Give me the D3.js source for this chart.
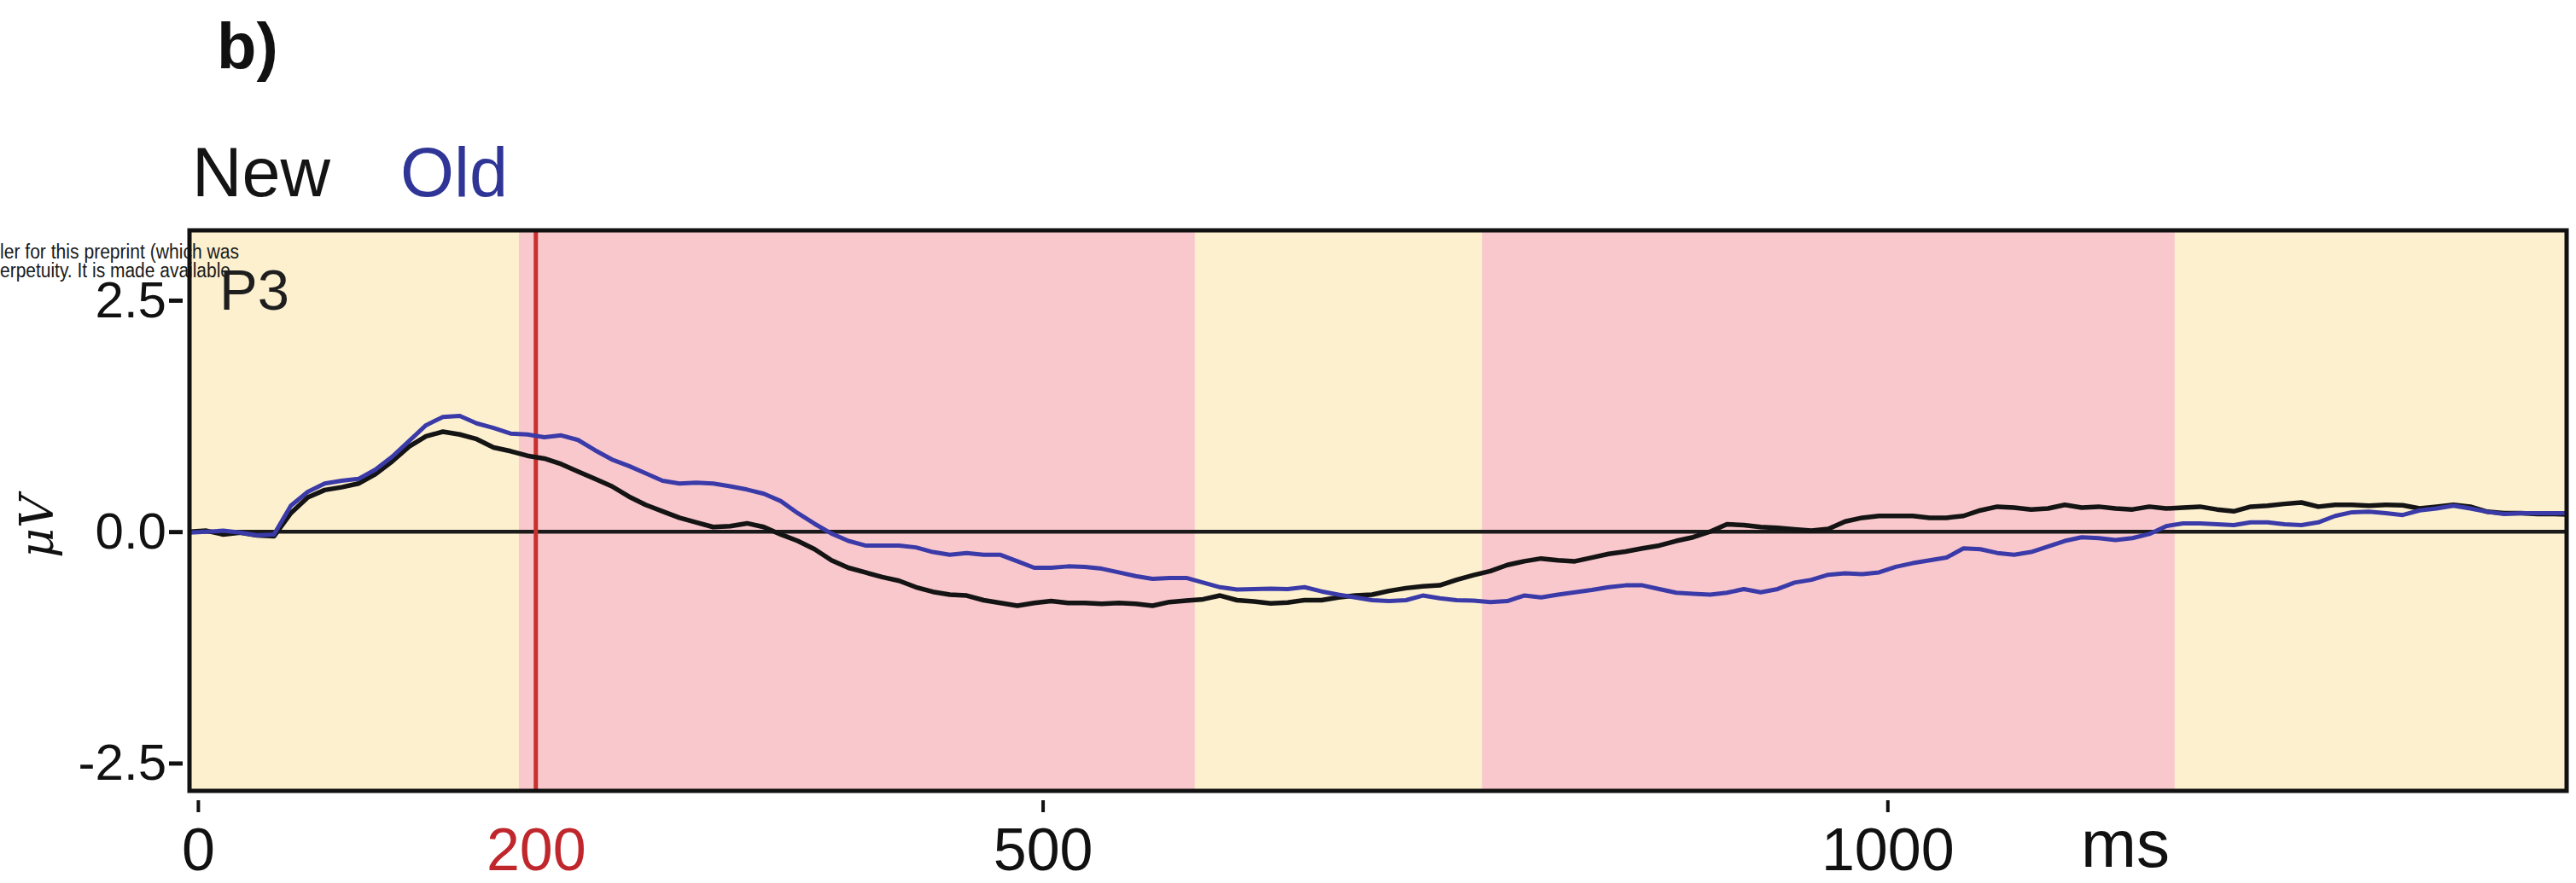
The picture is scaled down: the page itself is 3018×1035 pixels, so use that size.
<!DOCTYPE html>
<html>
<head>
<meta charset="utf-8">
<script src="https://cdn.jsdelivr.net/npm/d3@7"></script>
<style>
  html, body { margin: 0; padding: 0; background: #ffffff; }
  svg { display: block; }
</style>
</head>
<body>
<script>
// ERP at electrode P3: grand-average waveforms for New and Old items (µV over ms)

// Sample times (ms), one every 10 ms across the epoch
const times = d3.range(-5, 1406, 10);

// New items (black trace), µV
const newVals = [
  0.00, 0.01, -0.03, -0.01, -0.04, -0.05, 0.20, 0.37, 0.45, 0.48,
  0.52, 0.62, 0.76, 0.92, 1.03, 1.08, 1.05, 1.00, 0.91, 0.87,
  0.82, 0.79, 0.73, 0.65, 0.57, 0.49, 0.38, 0.29, 0.22, 0.15,
  0.10, 0.05, 0.06, 0.09, 0.05, -0.03, -0.10, -0.19, -0.31, -0.39,
  -0.44, -0.49, -0.53, -0.60, -0.65, -0.68, -0.69, -0.74, -0.77, -0.80,
  -0.77, -0.75, -0.77, -0.77, -0.78, -0.77, -0.78, -0.80, -0.76, -0.745,
  -0.73, -0.69, -0.74, -0.755, -0.775, -0.765, -0.74, -0.74, -0.71, -0.69,
  -0.68, -0.64, -0.61, -0.59, -0.58, -0.52, -0.47, -0.425, -0.36, -0.32,
  -0.29, -0.31, -0.32, -0.28, -0.24, -0.215, -0.18, -0.15, -0.10, -0.06,
  0.00, 0.08, 0.07, 0.05, 0.04, 0.025, 0.01, 0.03, 0.11, 0.15,
  0.17, 0.17, 0.17, 0.15, 0.15, 0.17, 0.23, 0.27, 0.26, 0.24,
  0.25, 0.29, 0.26, 0.27, 0.25, 0.24, 0.27, 0.25, 0.26, 0.27,
  0.24, 0.22, 0.27, 0.28, 0.30, 0.315, 0.27, 0.29, 0.29, 0.28,
  0.29, 0.285, 0.25, 0.27, 0.29, 0.27, 0.215, 0.20, 0.20, 0.19,
  0.19, 0.185
];

// Old items (blue trace), µV
const oldVals = [
  -0.01, 0.00, 0.01, -0.01, -0.04, -0.03, 0.28, 0.43, 0.52, 0.55,
  0.57, 0.67, 0.81, 0.98, 1.15, 1.24, 1.25, 1.17, 1.12, 1.06,
  1.05, 1.02, 1.04, 0.99, 0.88, 0.78, 0.71, 0.63, 0.55, 0.52,
  0.53, 0.52, 0.49, 0.455, 0.41, 0.33, 0.20, 0.085, -0.02, -0.10,
  -0.15, -0.15, -0.15, -0.17, -0.22, -0.25, -0.23, -0.25, -0.25, -0.32,
  -0.39, -0.39, -0.375, -0.38, -0.40, -0.44, -0.48, -0.51, -0.50, -0.50,
  -0.55, -0.60, -0.625, -0.62, -0.615, -0.62, -0.60, -0.645, -0.68, -0.71,
  -0.74, -0.75, -0.74, -0.69, -0.72, -0.74, -0.745, -0.76, -0.75, -0.69,
  -0.71, -0.68, -0.655, -0.63, -0.60, -0.58, -0.58, -0.62, -0.66, -0.67,
  -0.68, -0.66, -0.62, -0.655, -0.62, -0.55, -0.52, -0.465, -0.45, -0.46,
  -0.44, -0.38, -0.34, -0.31, -0.28, -0.18, -0.19, -0.23, -0.25, -0.22,
  -0.16, -0.10, -0.06, -0.07, -0.09, -0.07, -0.025, 0.06, 0.09, 0.09,
  0.08, 0.07, 0.10, 0.10, 0.08, 0.07, 0.10, 0.17, 0.21, 0.215,
  0.20, 0.18, 0.23, 0.25, 0.28, 0.25, 0.215, 0.19, 0.20, 0.20,
  0.20, 0.20
];

// Time windows highlighted in pink (ms)
const windowStart = [190, 760];
const windowEnd = [590, 1170];

// Marker time and axis ticks
const markerTime = 200;
const xTicks = [0, 200, 500, 1000];
const yTicks = [-2.5, 0, 2.5];

// Layout
const W = 3018, H = 1035;
const plot = { left: 222, right: 3007, top: 270, bottom: 927 };
const sans = "'Liberation Sans', Arial, Helvetica, sans-serif";

const svg = d3.select("body").append("svg")
  .attr("width", W).attr("height", H)
  .attr("viewBox", `0 0 ${W} ${H}`);

const x = d3.scaleLinear().domain([-5, 1402]).range([plot.left, plot.right]);
const y = d3.scaleLinear().domain([-2.8, 3.255]).range([plot.bottom, plot.top]);

svg.append("defs").append("clipPath").attr("id", "plot-clip")
  .append("rect")
  .attr("x", plot.left).attr("y", plot.top)
  .attr("width", plot.right - plot.left).attr("height", plot.bottom - plot.top);

// Background of the panel
svg.append("rect")
  .attr("x", plot.left).attr("y", plot.top)
  .attr("width", plot.right - plot.left).attr("height", plot.bottom - plot.top)
  .attr("fill", "#fdf0cf");

// Highlighted windows
svg.append("g").selectAll("rect")
  .data(windowStart.map((s, i) => ({ s, e: windowEnd[i] })))
  .join("rect")
  .attr("x", d => x(d.s))
  .attr("y", plot.top)
  .attr("width", d => x(d.e) - x(d.s))
  .attr("height", plot.bottom - plot.top)
  .attr("fill", "#f9c8cc");

// Overprinted note at the top left
const note = svg.append("g")
  .attr("font-family", "'Liberation Sans Narrow', 'Arial Narrow', " + sans)
  .attr("font-size", 23).attr("fill", "#1a1a1a");
note.append("text").attr("x", 0).attr("y", 303)
  .attr("textLength", 280).attr("lengthAdjust", "spacingAndGlyphs")
  .text("ler for this preprint (which was");
note.append("text").attr("x", 0).attr("y", 325)
  .attr("textLength", 270).attr("lengthAdjust", "spacingAndGlyphs")
  .text("erpetuity. It is made available");

// Zero line
svg.append("line")
  .attr("x1", plot.left).attr("x2", plot.right)
  .attr("y1", y(0)).attr("y2", y(0))
  .attr("stroke", "#1a1a1a").attr("stroke-width", 4.5);

// Marker line
svg.append("line")
  .attr("x1", x(markerTime)).attr("x2", x(markerTime))
  .attr("y1", plot.top).attr("y2", plot.bottom)
  .attr("stroke", "#c8302e").attr("stroke-width", 5);

// Waveforms
const line = d3.line()
  .x((d, i) => x(times[i]))
  .y(d => y(d));

const traces = svg.append("g").attr("clip-path", "url(#plot-clip)")
  .attr("fill", "none").attr("stroke-linejoin", "round").attr("stroke-linecap", "round");
traces.append("path").datum(newVals)
  .attr("d", line).attr("stroke", "#141414").attr("stroke-width", 5.5);
traces.append("path").datum(oldVals)
  .attr("d", line).attr("stroke", "#3a3aa8").attr("stroke-width", 5);

// Panel frame
svg.append("rect")
  .attr("x", plot.left).attr("y", plot.top)
  .attr("width", plot.right - plot.left).attr("height", plot.bottom - plot.top)
  .attr("fill", "none").attr("stroke", "#111").attr("stroke-width", 5);

// Channel name
svg.append("text")
  .attr("x", 257).attr("y", 363)
  .attr("font-family", sans).attr("font-size", 67).attr("fill", "#1e1e1e")
  .text("P3");

// Y axis
const yAxis = svg.append("g")
  .attr("transform", `translate(${plot.left - 8},0)`)
  .call(d3.axisLeft(y).tickValues(yTicks).tickFormat(d => d.toFixed(1))
    .tickSize(16).tickPadding(3));
yAxis.select(".domain").remove();
yAxis.selectAll(".tick line").attr("stroke", "#111").attr("stroke-width", 5);
yAxis.selectAll(".tick text")
  .attr("font-family", sans).attr("font-size", 60).attr("fill", "#111");

// X axis
const xAxis = svg.append("g")
  .attr("transform", "translate(0,938)")
  .call(d3.axisBottom(x).tickValues(xTicks).tickFormat(d3.format("d"))
    .tickSize(14).tickPadding(18));
xAxis.select(".domain").remove();
xAxis.selectAll(".tick line").attr("stroke", "#111").attr("stroke-width", 4);
xAxis.selectAll(".tick text")
  .attr("font-family", sans).attr("font-size", 70).attr("fill", "#111");
xAxis.selectAll(".tick").filter(d => d === markerTime)
  .call(t => t.select("line").remove())
  .select("text").attr("fill", "#c0272d");

// Axis titles
svg.append("text")
  .attr("x", 2490).attr("y", 1016).attr("text-anchor", "middle")
  .attr("font-family", sans).attr("font-size", 78).attr("fill", "#111")
  .text("ms");
svg.append("text")
  .attr("transform", "translate(62,617) rotate(-90)")
  .attr("text-anchor", "middle")
  .attr("font-family", "'DejaVu Serif', 'Liberation Serif', serif")
  .attr("font-style", "italic").attr("font-size", 54).attr("fill", "#111")
  .text("μV");

// Legend
svg.append("text")
  .attr("x", 225).attr("y", 230)
  .attr("font-family", sans).attr("font-size", 81).attr("fill", "#141414")
  .text("New");
svg.append("text")
  .attr("x", 469).attr("y", 230)
  .attr("font-family", sans).attr("font-size", 81).attr("fill", "#2f3596")
  .text("Old");

// Panel letter
svg.append("text")
  .attr("x", 254).attr("y", 80)
  .attr("font-family", sans).attr("font-weight", "bold").attr("font-size", 76)
  .attr("fill", "#111")
  .text("b)");
</script>
</body>
</html>
